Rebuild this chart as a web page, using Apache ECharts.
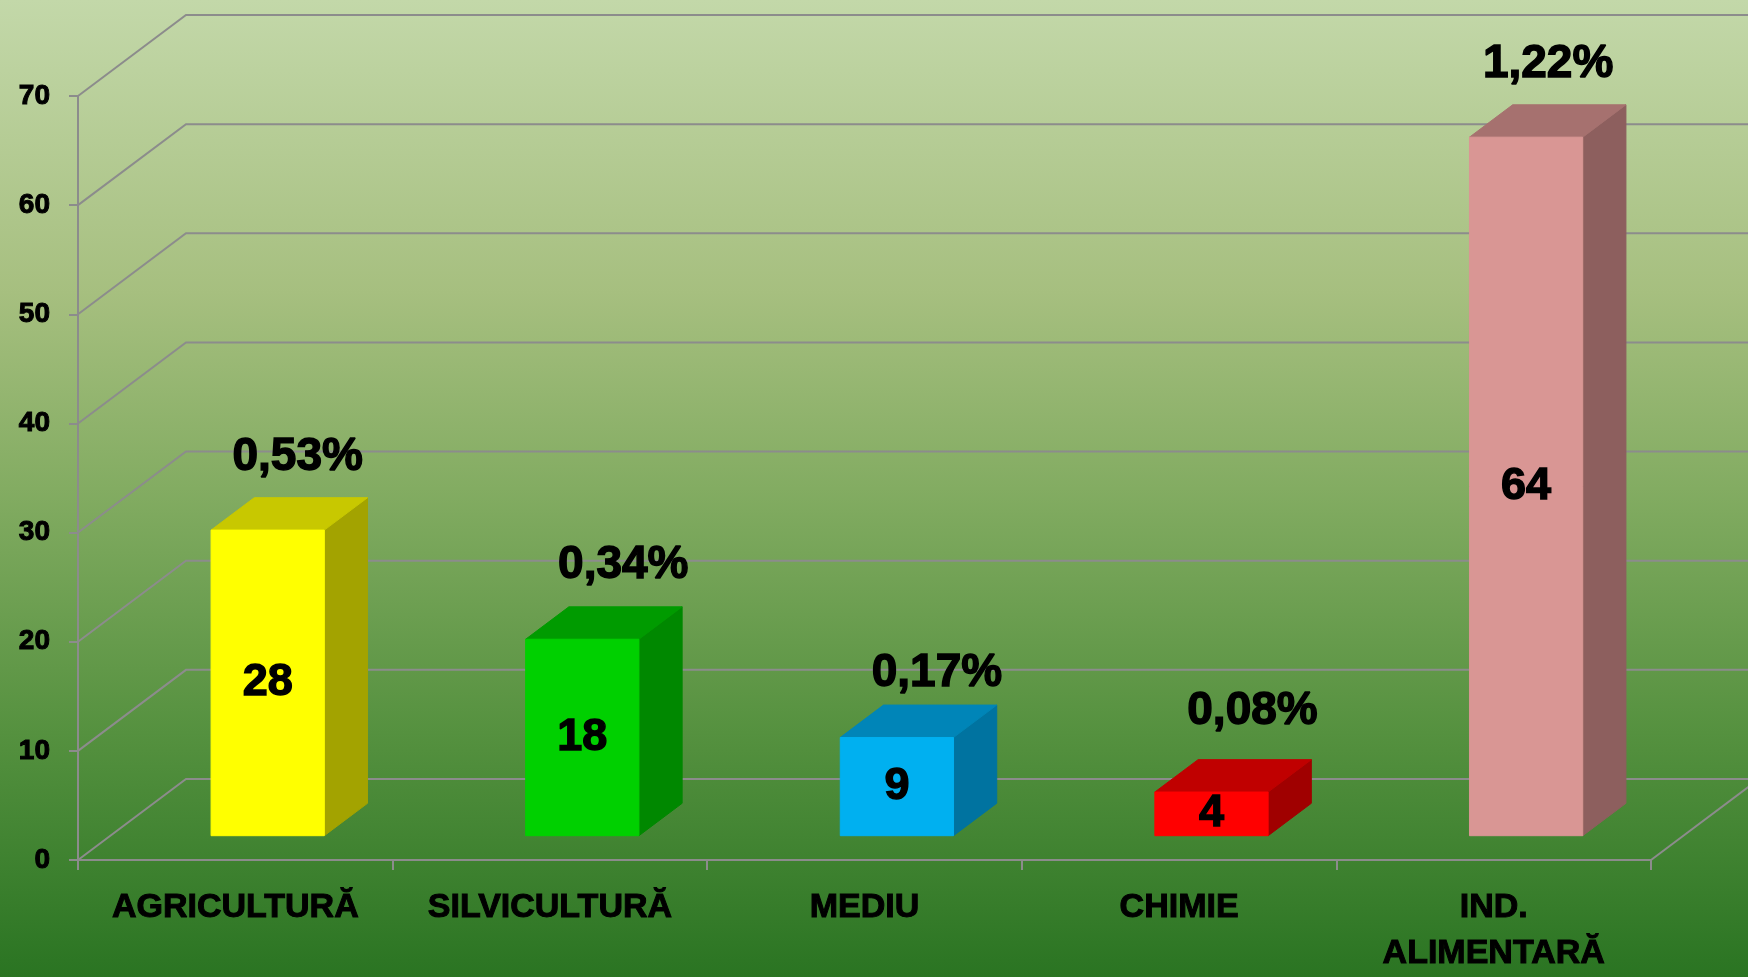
<!DOCTYPE html>
<html><head><meta charset="utf-8">
<style>html,body{margin:0;padding:0;background:#2d7524}#c{width:1748px;height:977px}</style>
<script src="https://cdn.jsdelivr.net/npm/echarts@6/dist/echarts.min.js"></script>
</head><body><div id="c"></div>
<script>
var categories = ['AGRICULTURĂ','SILVICULTURĂ','MEDIU','CHIMIE','IND.\nALIMENTARĂ'];
var values = [28,18,9,4,64];
var percents = ['0,53%','0,34%','0,17%','0,08%','1,22%'];
var yTicks = [0,10,20,30,40,50,60,70];

var frontColors = ['#ffff00','#00d000','#00b0f0','#ff0000','#d99694'];
var topColors   = ['#c8c800','#009b00','#0085b8','#c00000','#a6716f'];
var sideColors  = ['#a3a300','#008800','#0073a0','#a00000','#8d5f5e'];
var pctOffsets  = [[30,-73],[41,-74],[40,-64],[41,-81],[22,-73]];

var FONT = '"Liberation Sans", Arial, sans-serif';
var depthX = 108, depthY = -81;
var gridColor = '#8c8c8c';

function wallItem(params, api){
  var v = api.value(0), cs = params.coordSys;
  var y = api.coord([0, v])[1], x0 = cs.x, x1 = cs.x + cs.width;
  var kids = [{type:'polyline',silent:true,
    shape:{points:[[x0,y],[x0+depthX,y+depthY],[x1+depthX,y+depthY]]},
    style:{fill:null,stroke:gridColor,lineWidth:2}}];
  if (v === 0) kids.push({type:'line',silent:true,
    shape:{x1:x1,y1:y,x2:x1+depthX,y2:y+depthY},
    style:{stroke:gridColor,lineWidth:2}});
  return {type:'group',children:kids};
}

function barItem(params, api){
  var i = params.dataIndex, v = api.value(1);
  var c0 = api.coord([i,0]), c1 = api.coord([i,v]);
  var bw = api.size([1,0])[0];
  var w = bw*0.36, ox = depthX*0.3, oy = depthY*0.3, dx = depthX*0.4, dy = depthY*0.4;
  var l = c0[0]-w/2+ox, r = l+w, b = c0[1]+oy, t = c1[1]+oy;
  function poly(pts,col){return {type:'polygon',silent:true,shape:{points:pts},
    style:{fill:col,stroke:col,lineWidth:1}};}
  var off = pctOffsets[i];
  return {type:'group',children:[
    poly([[r,b],[r+dx,b+dy],[r+dx,t+dy],[r,t]],sideColors[i]),
    poly([[l,t],[l+dx,t+dy],[r+dx,t+dy],[r,t]],topColors[i]),
    poly([[l,t],[r,t],[r,b],[l,b]],frontColors[i]),
    {type:'text',silent:true,x:(l+r)/2,y:(t+b)/2,style:{text:String(values[i]),font:'bold 45px '+FONT,
      fill:'#000',stroke:'#000',lineWidth:1.4,align:'center',verticalAlign:'middle'}},
    {type:'text',silent:true,x:(l+r)/2+off[0],y:t+off[1],style:{text:percents[i],font:'bold 46px '+FONT,
      fill:'#000',stroke:'#000',lineWidth:1.4,align:'center',verticalAlign:'middle'}}
  ]};
}

var chart = echarts.init(document.getElementById('c'));
chart.setOption({
  animation:false,
  backgroundColor:new echarts.graphic.LinearGradient(0,0,0,1,[
    {offset:0,color:'#c3d8a9'},{offset:0.3,color:'#a6bf7f'},{offset:0.5,color:'#83ac62'},
    {offset:0.75,color:'#55913f'},{offset:1,color:'#2a7422'}]),
  grid:{left:78,right:97,top:96,bottom:106},
  xAxis:{type:'category',data:categories,
    axisLine:{lineStyle:{color:gridColor,width:2}},
    axisTick:{show:true,alignWithLabel:false,length:10,lineStyle:{color:gridColor,width:2}},
    axisLabel:{interval:0,color:'#000',fontFamily:FONT,fontWeight:'bold',fontSize:34,lineHeight:46,
      textBorderColor:'#000',textBorderWidth:1,margin:25,verticalAlign:'top'}},
  yAxis:{type:'value',min:0,max:70,interval:10,splitLine:{show:false},
    axisLine:{show:true,lineStyle:{color:gridColor,width:2}},
    axisTick:{show:true,length:9,lineStyle:{color:gridColor,width:2}},
    axisLabel:{color:'#000',fontFamily:FONT,fontWeight:'bold',fontSize:28,margin:28,
      textBorderColor:'#000',textBorderWidth:1,padding:[4,0,0,0]}},
  series:[
    {type:'custom',name:'walls',coordinateSystem:'cartesian2d',clip:false,silent:true,
     encode:{y:0},data:yTicks.map(function(t){return [t];}),renderItem:wallItem,z:1},
    {type:'custom',name:'bars',coordinateSystem:'cartesian2d',clip:false,silent:true,
     encode:{x:0,y:1},data:values.map(function(v,i){return [i,v];}),renderItem:barItem,z:3}
  ]
});
</script></body></html>
